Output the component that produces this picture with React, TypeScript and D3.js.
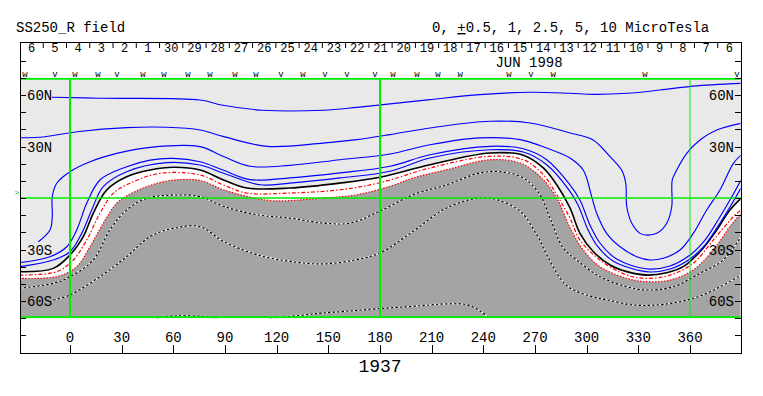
import React from 'react';
import * as d3 from 'd3';

// top axis: day of month, right-to-left in time
const dayLabels = [6, 5, 4, 3, 2, 1, 30, 29, 28, 27, 26, 25, 24, 23, 22, 21, 20, 19, 18, 17, 16, 15, 14, 13, 12, 11, 10, 9, 8, 7, 6];
const lonTicks = [0, 30, 60, 90, 120, 150, 180, 210, 240, 270, 300, 330, 360];
const latTicks = [-80, -70, -60, -50, -40, -30, -20, -10, 0, 10, 20, 30, 40, 50, 60, 70, 80];
const latLabels = [60, 30, -30, -60];
const gridLon = [0, 180, 360];

// observation markers above the map
const markerLon = [-26.1, -8.7, 2.9, 16.3, 27.3, 42.4, 54.6, 68.5, 81.3, 95.8, 108, 122.5, 135.3, 148.1, 160.8, 177.1, 187.5, 201.5, 213.7, 226.5, 254.9, 267.7, 280.5, 333.9, 387.3];
const markerType = ['w', 'v', 'w', 'w', 'v', 'w', 'w', 'w', 'w', 'w', 'w', 'v', 'w', 'v', 'v', 'v', 'w', 'w', 'w', 'w', 'w', 'v', 'w', 'w', 'v'];

// contours [lon, lat]
const c10 = [[-10.5, 58.7], [17.4, 58.1], [75.5, 57.1], [88.8, 54.0], [112.1, 51.1], [146.9, 51.1], [166.6, 52.8], [185.8, 54.8], [209, 57.3], [238.1, 60.2], [267.1, 61.6], [290.3, 61.0], [303.7, 60.4], [323.4, 61.0], [342.6, 62.9], [361.7, 65.2], [389.6, 66.8]];
const c5 = [[-29.0, 35.1], [-14.5, 35.7], [4.1, 38.6], [33.1, 41.0], [56.3, 41.2], [75.5, 39.6], [88.8, 35.9], [114.4, 30.1], [146.9, 32.0], [166.6, 34.0], [185.8, 36.9], [209, 40.8], [243.9, 44.7], [267.1, 43.7], [290.3, 37.9], [303.7, 33.8], [313.6, 24.1], [320.3, 16.3], [322.7, 8.6], [323.3, -5.1], [326.2, -14.7], [331.0, -20.6], [335.2, -21.6], [340.7, -20.6], [346.5, -14.7], [349.4, -5.1], [349.7, 10.5], [352.3, 16.3], [358.1, 26.0], [365.8, 33.8], [375.5, 39.6], [389.6, 43.5]];
const c2p5 = [[-18.4, -25.5], [-11.6, -18.6], [-10.3, -10.9], [-10.3, 0.8], [-7.7, 8.6], [0, 15.3], [11.6, 21.1], [27.1, 26.0], [46.5, 29.5], [75.5, 29.9], [88.8, 24.3], [104.5, 18.5], [127.7, 19.0], [156.8, 22.3], [185.8, 25.6], [209, 31.0], [238.1, 35.0], [261.3, 34.0], [276.8, 29.1], [290.3, 23.3], [298.0, 16.3], [302.9, 0.8], [305.8, -8.9], [311.6, -20.6], [319.4, -28.4], [329.1, -34.2], [336.8, -36.1], [344.5, -35.1], [354.2, -30.3], [361.9, -20.6], [369.7, -7.0], [377.4, 4.7], [385.2, 20.2], [389.6, 25.0]];
const c1 = [[-29.4, -37.7], [-11.6, -34.2], [-1.9, -28.4], [3.9, -18.6], [9.7, -3.1], [17.4, 10.5], [32.9, 18.2], [46.5, 22.1], [60.0, 23.1], [75.5, 21.1], [88.8, 16.3], [104.5, 10.7], [127.7, 11.7], [156.8, 14.6], [185.8, 18.5], [209, 25.2], [243.9, 30.1], [263.2, 28.7], [276.8, 22.3], [290.3, 7.7], [296.1, -1.2], [301.9, -15.7], [307.7, -26.2], [316.5, -35.0], [325.2, -39.0], [336.8, -41.4], [348.4, -39.6], [360.0, -33.2], [368.7, -24.5], [376.3, -12.8], [383.2, -1.2], [389.6, 10.5]];
const c0p5 = [[-29.4, -40.0], [-9.7, -36.1], [0, -31.3], [6.8, -20.6], [12.6, -7.0], [19.3, 6.6], [32.9, 15.3], [56.1, 20.6], [75.5, 19.2], [88.8, 14.6], [110.3, 7.7], [127.7, 8.7], [156.8, 11.7], [185.8, 15.6], [209, 23.3], [243.9, 28.1], [263.2, 26.8], [276.8, 19.4], [290.3, 3.9], [295.0, -4.1], [300.8, -18.6], [306.6, -28.5], [315.3, -36.7], [325.2, -40.8], [336.8, -43.1], [348.4, -41.4], [360.0, -35.5], [368.7, -27.4], [376.3, -16.3], [383.2, -5.2], [389.6, 5.8]];
const c0 = [[-29.4, -42.9], [-9.7, -41.0], [0, -33.2], [7.7, -22.5], [13.5, -8.9], [21.3, 4.7], [32.9, 12.4], [46.5, 16.3], [60.0, 17.9], [75.5, 16.3], [88.8, 10.7], [102.6, 5.8], [127.7, 5.8], [156.8, 8.7], [180, 12.1], [209, 19.4], [243.9, 26.2], [263.2, 24.9], [274.8, 17.5], [282.6, 7.7], [290.3, -5.8], [296.1, -20.6], [303.9, -31.3], [313.6, -39.0], [323.3, -42.9], [335.2, -44.9], [346.5, -43.5], [356.1, -40.0], [365.8, -31.3], [375.5, -18.6], [383.2, -7.0], [389.6, -0.2]];
const cm0p5 = [[-29.4, -44.9], [-7.7, -42.9], [1.9, -36.1], [9.7, -24.5], [17.4, -8.9], [25.1, 2.7], [36.8, 9.5], [52.3, 14.4], [75.5, 13.4], [88.8, 7.7], [102.6, 2.9], [127.7, 2.9], [156.8, 4.8], [180, 8.9], [209, 17.5], [243.9, 24.3], [263.2, 22.3], [274.8, 13.6], [282.6, 1.9], [290.3, -11.7], [296.1, -24.5], [307.7, -36.1], [323.3, -44.9], [335.2, -46.8], [348.4, -44.9], [361.9, -38.0], [373.5, -24.5], [385.2, -10.9], [389.6, -7.0]];
const cm1 = [[-29.4, -46.8], [-7.7, -45.8], [3.9, -40.0], [11.6, -28.4], [19.3, -14.7], [27.1, -3.1], [32.9, 1.2], [44.5, 6.6], [58.1, 10.2], [75.5, 10.2], [89.0, 4.8], [102.6, 1.0], [118.0, -1.6], [147.1, 0], [166.5, 1.9], [185.8, 6.8], [199.3, 11.7], [218.7, 16.5], [243.9, 22.3], [261.3, 20.4], [272.9, 12.6], [282.6, 0], [290.3, -17.2], [298.0, -30.3], [307.7, -40.0], [323.3, -46.8], [335.2, -48.8], [348.4, -47.8], [361.9, -41.9], [373.5, -30.3], [383.2, -16.7], [389.6, -8.9]];
const cm2p5 = [[-29.4, -52.6], [-9.7, -49.7], [0, -45.8], [13.5, -36.1], [23.2, -18.6], [32.9, -7.0], [44.5, -0.2], [60.0, 1.7], [75.5, 0.8], [89.0, -4.8], [108.4, -9.7], [127.7, -11.7], [147.1, -14.6], [162.6, -14.6], [180, -7.6], [199.3, 1.9], [218.7, 7.7], [238.1, 14.6], [251.6, 15.1], [263.2, 11.7], [272.9, 1.9], [278.7, -11.7], [286.4, -29.1], [294.2, -36.1], [307.7, -45.8], [323.3, -51.7], [335.2, -53.6], [350.3, -51.7], [365.8, -43.9], [379.3, -36.1], [389.6, -22.5]];
const cm5 = [[-9.7, -59.4], [0, -56.5], [17.4, -45.8], [32.9, -34.2], [46.5, -22.5], [60.0, -17.7], [75.5, -16.7], [89.0, -25.2], [108.4, -33.0], [127.7, -36.9], [147.1, -38.4], [166.5, -35.9], [180, -32.0], [199.3, -19.4], [218.7, -5.8], [238.1, 0], [247.8, -1.0], [261.3, -7.7], [271.0, -21.4], [276.8, -33.0], [284.5, -46.6], [290.3, -52.4], [301.9, -57.1], [311.8, -59.4], [326.9, -62.3], [340.8, -62.3], [354.2, -60.4], [365.8, -57.1], [377.4, -51.8], [389.6, -44.9]];
const cm10a = [[50.3, -70.1], [61.0, -68.7], [75.5, -69.0], [85.2, -70.1]];
const cm10b = [[116.1, -70.1], [133.5, -68.4], [147.1, -67.0], [162.6, -65.8], [180, -64.4], [199.3, -63.1], [218.7, -61.7], [230.5, -62.2], [238.1, -65.8], [243.9, -70.1]];

const positive = [c10, c5, c2p5, c1, c0p5];
const negative = [cm2p5, cm5, cm10a, cm10b];

const FONT = '"Liberation Mono", "DejaVu Sans Mono", monospace';

export default function App() {
  const width = 763;
  const height = 396;
  const left = 20, right = 741, top = 42, bottom = 353;

  const x = d3.scaleLinear().domain([0, 360]).range([70, 690]);
  const y = d3.scaleLinear().domain([-90, 90]).range([352.5, 43.5]);
  const days = d3.scaleBand<number>().domain(d3.range(dayLabels.length)).range([left, right]);

  const curve = d3.curveCatmullRom.alpha(0.5);
  const line = d3.line<number[]>().x(d => x(d[0])).y(d => y(d[1])).curve(curve);
  const fillAbove = d3.area<number[]>().x(d => x(d[0])).y0(y(75)).y1(d => y(d[1])).curve(curve);

  const pTop = y(70), pBot = y(-70);

  return (
    <svg width={width} height={height} style={{ position: 'absolute', left: 0, top: 0, background: '#fff' }}>
      <defs>
        <clipPath id="plot">
          <rect x={left + 0.5} y={pTop} width={right - left - 1} height={pBot - pTop} />
        </clipPath>
      </defs>

      <text x={16} y={32} fontFamily={FONT} fontSize={14}>SS250_R field</text>
      <text x={432} y={32} fontFamily={FONT} fontSize={14}>
        0, <tspan style={{ textDecoration: 'underline' }}>+</tspan>0.5, 1, 2.5, 5, 10 MicroTesla
      </text>

      <g clipPath="url(#plot)">
        <rect x={left} y={pTop} width={right - left} height={pBot - pTop} fill="#a4a4a4" />
        <path d={fillAbove(cm1) || ''} fill="#ffffff" />
        <path d={fillAbove(c0) || ''} fill="#e9e9e9" />

        {negative.map((c, i) => (
          <g key={'n' + i}>
            <path d={line(c) || ''} fill="none" stroke="#fff" strokeWidth={1.1} />
            <path d={line(c) || ''} fill="none" stroke="#000" strokeWidth={1.1} strokeDasharray="2.5 2" />
          </g>
        ))}
        <path d={line(cm1) || ''} fill="none" stroke="#ff0000" strokeWidth={1.2} strokeDasharray="1.5 1.5" />
        <path d={line(cm0p5) || ''} fill="none" stroke="#ff0000" strokeWidth={1.2} strokeDasharray="4 2 1.5 2" />
        <path d={line(c0) || ''} fill="none" stroke="#000" strokeWidth={1.6} />
        {positive.map((c, i) => (
          <path key={'p' + i} d={line(c) || ''} fill="none" stroke="#0000ff" strokeWidth={1.15} />
        ))}

        {gridLon.map(l => (
          <line key={'g' + l} x1={x(l)} x2={x(l)} y1={pTop} y2={pBot} stroke="#00ee00" strokeWidth={l === 360 ? 1 : 2} />
        ))}
        <line x1={left} x2={right} y1={y(0)} y2={y(0)} stroke="#00ee00" strokeWidth={1.5} />
        <line x1={left} x2={right} y1={pTop + 1} y2={pTop + 1} stroke="#00ee00" strokeWidth={2} />
        <line x1={left} x2={right} y1={pBot - 1} y2={pBot - 1} stroke="#00ee00" strokeWidth={2} />
      </g>
      <text x={17} y={195} fontFamily={FONT} fontSize={8} fill="#00cc00" textAnchor="middle">&gt;</text>

      {/* frame */}
      <rect x={left + 0.5} y={top + 0.5} width={right - left} height={bottom - top} fill="none" stroke="#000" />

      {/* day axis */}
      {dayLabels.map((d, i) => (
        <g key={'d' + i}>
          {i > 0 && <line x1={days(i)} x2={days(i)} y1={top + 1} y2={top + 6} stroke="#000" />}
          <text x={(days(i) || 0) + days.bandwidth() / 2} y={52} fontFamily={FONT} fontSize={12} textAnchor="middle">{d}</text>
        </g>
      ))}
      <text x={529} y={67} fontFamily={FONT} fontSize={14} textAnchor="middle">JUN 1998</text>
      {markerLon.map((l, i) => (
        <text key={'m' + i} x={x(l)} y={77} fontFamily={FONT} fontSize={9} textAnchor="middle">{markerType[i]}</text>
      ))}

      {/* latitude ticks */}
      {latTicks.map(t => (
        <g key={'lt' + t}>
          <line x1={left} x2={left + 6} y1={Math.round(y(t)) + 0.5} y2={Math.round(y(t)) + 0.5} stroke="#000" />
          <line x1={right - 6} x2={right} y1={Math.round(y(t)) + 0.5} y2={Math.round(y(t)) + 0.5} stroke="#000" />
        </g>
      ))}
      {latLabels.map(t => {
        const lab = Math.abs(t) + (t > 0 ? 'N' : 'S');
        return (
          <g key={'ll' + t}>
            <text x={27} y={y(t) + 5} fontFamily={FONT} fontSize={14}>{lab}</text>
            <text x={734} y={y(t) + 5} fontFamily={FONT} fontSize={14} textAnchor="end">{lab}</text>
          </g>
        );
      })}

      {/* longitude axis */}
      {lonTicks.map(t => (
        <g key={'lo' + t}>
          <line x1={Math.round(x(t)) + 0.5} x2={Math.round(x(t)) + 0.5} y1={bottom - 8} y2={bottom} stroke="#000" />
          <text x={x(t)} y={342} fontFamily={FONT} fontSize={14} textAnchor="middle">{t}</text>
        </g>
      ))}
      <text x={380} y={372} fontFamily={FONT} fontSize={18} textAnchor="middle">1937</text>
    </svg>
  );
}
